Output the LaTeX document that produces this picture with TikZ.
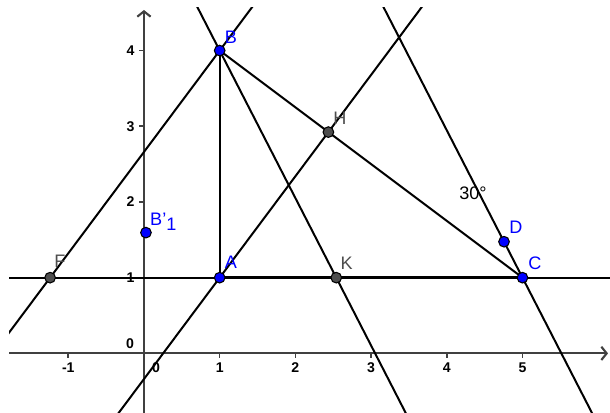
\documentclass[tikz,border=0pt]{standalone}
\usepackage{fontspec}
\setmainfont{Liberation Sans}
\usetikzlibrary{calc,arrows.meta}
\definecolor{ptblue}{RGB}{0,0,255}
\definecolor{ptgray}{RGB}{77,77,77}
\definecolor{axgray}{RGB}{64,64,64}
\tikzset{
  ln/.style={line width=0.75pt, black},
  axis/.style={line width=0.8pt, axgray, -{Straight Barb[length=2pt,width=5pt]}},
  tickmark/.style={line width=0.6pt, axgray},
  bpt/.style={circle, fill=ptblue, draw=black, line width=0.4pt, inner sep=0pt, minimum size=4pt},
  gpt/.style={circle, fill=ptgray, draw=black, line width=0.4pt, inner sep=0pt, minimum size=4pt},
  blab/.style={text=ptblue, font=\fontsize{6.8}{7}\selectfont, inner sep=0pt},
  glab/.style={text=ptgray, font=\fontsize{6.8}{7}\selectfont, inner sep=0pt},
  num/.style={font=\bfseries\fontsize{5.3}{6}\selectfont, inner sep=0pt, text=black},
}
\begin{document}
\begin{tikzpicture}
\useasboundingbox (-1.902,-0.787) rectangle (6.156,4.668);
% coordinates of points
\coordinate (B) at (1,4);
\coordinate (A) at (1,1);
\coordinate (C) at (5,1);
\coordinate (K) at (2.54,1);
\coordinate (F) at (-1.24,1);
\coordinate (H) at (2.436,2.923);
\coordinate (D) at (4.756,1.475);
\coordinate (Bp) at (0.026,1.595);
\coordinate (O) at (0,0);
% axes
\coordinate (xl) at (-1.783,0);
\coordinate (xr) at (6.13,0);
\coordinate (yb) at (0,-0.787);
\coordinate (yt) at (0,4.536);
\draw[axis] (xl) -- (xr);
\draw[axis] (yb) -- (yt);
\foreach \i/\t in {-1/-1,1/1,2/2,3/3,4/4,5/5}{
  \draw[tickmark] (\i,0) -- (\i,-0.066);
  \node[num] (xn\i) at (\i,-0.19) {\t};
}
\foreach \i in {1,2,3,4}{
  \draw[tickmark] (0,\i) -- (-0.066,\i);
  \node[num, anchor=east] (yn\i) at (-0.12,\i) {\i};
}
\node[num] (zero1) at (-0.185,0.124) {0};
\node[num] (zero2) at (0.16,-0.19) {0};
% lines (clipped)
\begin{scope}
\clip (-1.783,-0.787) rectangle (6.156,4.563);
\draw[ln] ($(F)!-3!(C)$) -- ($(F)!3!(C)$);
\draw[ln] ($(F)!-2!(B)$) -- ($(F)!3!(B)$);
\draw[ln] ($(A)!-3!(H)$) -- ($(A)!4!(H)$);
\draw[ln] ($(B)!-1!(K)$) -- ($(B)!3!(K)$);
\draw[ln] ($(C)!-8!(D)$) -- ($(C)!12!(D)$);
\end{scope}
\draw[ln] (A) -- (B);
\draw[ln] (B) -- (C);
\draw[line width=1.1pt] (A) -- (C);
% points
\node[bpt] (nB) at (B) {};
\node[bpt] (nA) at (A) {};
\node[bpt] (nC) at (C) {};
\node[bpt] (nD) at (D) {};
\node[bpt] (nBp) at (Bp) {};
\node[gpt] (nK) at (K) {};
\node[gpt] (nF) at (F) {};
\node[gpt] (nH) at (H) {};
% labels
\node[blab] (lB) at (1.149,4.18) {B};
\node[blab] (lA) at (1.149,1.203) {A};
\node[blab] (lC) at (5.165,1.19) {C};
\node[blab] (lD) at (4.914,1.666) {D};
\node[blab, anchor=west] (lBp) at (0.075,1.74) {B\char"0027\raisebox{-0.45ex}{1}};
\node[glab] (lK) at (2.678,1.19) {K};
\node[glab] (lH) at (2.589,3.105) {H};
\node[glab] (lF) at (-1.11,1.211) {F};
\node[font=\fontsize{6.8}{7}\selectfont, inner sep=0pt] (ang) at (4.346,2.119) {30°};
\end{tikzpicture}
\end{document}
